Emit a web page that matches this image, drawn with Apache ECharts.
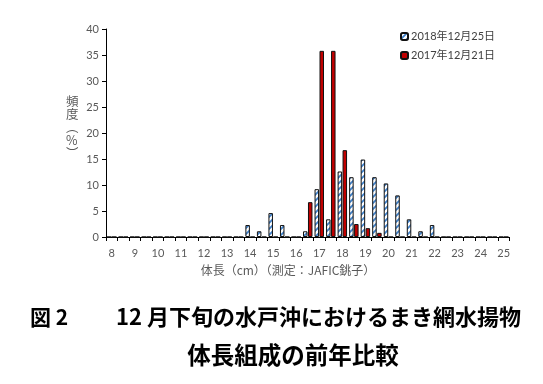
<!DOCTYPE html>
<html><head><meta charset="utf-8">
<script src="https://cdn.jsdelivr.net/npm/echarts@6/dist/echarts.min.js"></script>
<style>html,body{margin:0;padding:0;background:#fff}#c{width:543px;height:384px}</style>
</head><body><div id="c"></div>
<script>
// 体長カテゴリ (cm, 0.5cm刻み)
const categories = ['8','8.5','9','9.5','10','10.5','11','11.5','12','12.5','13','13.5','14','14.5','15','15.5','16','16.5','17','17.5','18','18.5','19','19.5','20','20.5','21','21.5','22','22.5','23','23.5','24','24.5','25'];
// 2018年12月25日 (%)
const s2018 = [0,0,0,0,0,0,0,0,0,0,0,0, 2.3,1.1,4.6,2.3,0,1.1,9.2,3.4,12.6,11.5,14.9,11.5,10.3,8.0,3.4,1.1,2.3, 0,0,0,0,0,0];
// 2017年12月21日 (%)
const s2017 = [0,0,0,0,0,0,0,0,0,0,0,0,0,0,0,0,0, 6.7,35.8,35.8,16.7,2.5,1.7,0.8, 0,0,0,0,0,0,0,0,0,0,0];
const seriesNames = ['2018年12月25日','2017年12月21日'];
const yTicks = {min:0, max:40, interval:5};
const yName = ['頻','度','︵','%','︶'];
const xName = '体長（cm）（測定：JAFIC銚子）';
const title1a = '図 2';
const title1b = '12 月下旬の水戸沖におけるまき網水揚物';
const title2 = '体長組成の前年比較';

// diagonal hatch pattern
function hatch(){
  const s = 6, c = document.createElement('canvas');
  c.width = s; c.height = s;
  const g = c.getContext('2d');
  g.fillStyle = '#ffffff'; g.fillRect(0,0,s,s);
  g.strokeStyle = '#3D7FC8'; g.lineWidth = 1.8;
  g.beginPath();
  g.moveTo(-1, s+1); g.lineTo(s+1, -1);
  g.moveTo(-1, 1); g.lineTo(1, -1);
  g.moveTo(s-1, s+1); g.lineTo(s+1, s-1);
  g.stroke();
  return c;
}

const FONT = 'Lato, "Noto Sans CJK JP", sans-serif';
const chart = echarts.init(document.getElementById('c'), null, {renderer:'canvas'});
chart.setOption({
  animation:false,
  backgroundColor:'#fff',
  grid:{left:106, right:33.5, top:29, bottom:147, containLabel:false},
  legend:{
    orient:'vertical', left:395, top:26, itemWidth:7, itemHeight:7, itemGap:8,
    textStyle:{fontFamily:FONT, fontSize:11, color:'#404040', padding:[0,0,0,-2]},
    data:seriesNames
  },
  xAxis:{
    type:'category', data:categories, boundaryGap:true,
    axisLine:{lineStyle:{color:'#000', width:1}},
    axisTick:{show:true, alignWithLabel:false, interval:0, length:4, lineStyle:{color:'#000'}},
    axisLabel:{interval:1, margin:11, fontFamily:FONT, fontSize:11, color:'#595959'}
  },
  yAxis:{
    type:'value', min:yTicks.min, max:yTicks.max, interval:yTicks.interval,
    splitLine:{show:false},
    axisLine:{show:true, lineStyle:{color:'#000', width:1}},
    axisTick:{show:true, length:4, lineStyle:{color:'#000'}},
    axisLabel:{margin:7, fontFamily:FONT, fontSize:11, color:'#595959'}
  },
  series:[
    {name:seriesNames[0], type:'bar', data:s2018, barWidth:4.5, barGap:'10%',
     itemStyle:{color:{image:hatch(), repeat:'repeat'}, borderColor:'#111', borderWidth:1}},
    {name:seriesNames[1], type:'bar', data:s2017, barWidth:4.5,
     itemStyle:{color:'#C00000', borderColor:'#111', borderWidth:1}}
  ],
  graphic:[
    {type:'text', left:66, top:95, style:{text:yName.join('\n'), font:'12.5px "Noto Sans CJK JP"', fill:'#595959', lineHeight:13, align:'center'}},
    {type:'text', x:288, y:270, style:{text:xName, font:'12px "Noto Sans CJK JP"', fill:'#595959', align:'center', verticalAlign:'middle'}},
    {type:'text', x:30, y:317, style:{text:title1a, font:'bold 21px "Noto Sans CJK JP"', fill:'#000', align:'left', verticalAlign:'middle'}},
    {type:'text', x:116, y:317, style:{text:title1b, font:'bold 22px "Noto Sans CJK JP"', fill:'#000', align:'left', verticalAlign:'middle'}},
    {type:'text', x:293, y:355, style:{text:title2, font:'bold 23.5px "Noto Sans CJK JP"', fill:'#000', align:'center', verticalAlign:'middle'}}
  ]
});
</script></body></html>
